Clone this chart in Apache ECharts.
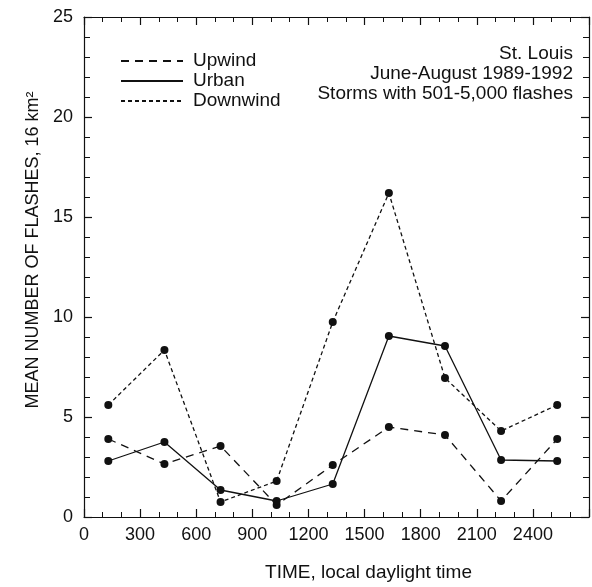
<!DOCTYPE html>
<html><head><meta charset="utf-8">
<script src="https://cdn.jsdelivr.net/npm/echarts@6/dist/echarts.min.js"></script>
<style>html,body{margin:0;padding:0;background:#fff}#c{width:592px;height:587px}</style>
</head><body><div id="c"></div>
<script>
const times = [130, 430, 730, 1030, 1330, 1630, 1930, 2230, 2530];
const upwind = [3.9, 2.65, 3.55, 0.6, 2.6, 4.5, 4.1, 0.8, 3.9];
const urban = [2.8, 3.75, 1.35, 0.8, 1.65, 9.05, 8.55, 2.85, 2.8];
const downwind = [5.6, 8.35, 0.75, 1.8, 9.75, 16.2, 6.95, 4.3, 5.6];
const xTickLabels = [0, 300, 600, 900, 1200, 1500, 1800, 2100, 2400];
const yTickLabels = [0, 5, 10, 15, 20, 25];
const seriesNames = ['Upwind', 'Urban', 'Downwind'];
const notes = ['St. Louis', 'June-August 1989-1992', 'Storms with 501-5,000 flashes'];

const FONT = '"Liberation Sans", Arial, Helvetica, sans-serif';
const INK = '#111';
const pairs = vals => times.map((t, i) => [t, vals[i]]);

function xAxisCfg(pos, labels) {
  return {
    type: 'value', position: pos, min: 0, max: 2700, interval: 300,
    axisLine: { show: true, onZero: false, lineStyle: { color: INK, width: 1.2 } },
    axisTick: { show: true, inside: true, length: 8, lineStyle: { color: INK, width: 1.2 } },
    minorTick: { show: true, splitNumber: 3, length: 5, lineStyle: { color: INK, width: 1 } },
    splitLine: { show: false },
    axisLabel: labels ? {
      show: true, margin: 9, color: INK, fontSize: 18, fontFamily: FONT,
      formatter: v => (xTickLabels.indexOf(v) >= 0 ? String(v) : '')
    } : { show: false }
  };
}
function yAxisCfg(pos, labels) {
  return {
    type: 'value', position: pos, min: 0, max: 25, interval: 5,
    axisLine: { show: true, onZero: false, lineStyle: { color: INK, width: 1.2 } },
    axisTick: { show: true, inside: true, length: 8, lineStyle: { color: INK, width: 1.2 } },
    minorTick: { show: true, splitNumber: 5, length: 6, lineStyle: { color: INK, width: 1 } },
    splitLine: { show: false },
    axisLabel: labels ? {
      show: true, margin: 11, color: INK, fontSize: 18, fontFamily: FONT,
      formatter: v => (yTickLabels.indexOf(v) >= 0 ? String(v) : '')
    } : { show: false }
  };
}

const xb = xAxisCfg('bottom', true);
xb.name = 'TIME, local daylight time';
xb.nameLocation = 'middle';
xb.nameGap = 46;
xb.nameTextStyle = { color: INK, fontSize: 19, fontFamily: FONT, padding: [0, 0, 0, 64] };
const yl = yAxisCfg('left', true);
yl.name = 'MEAN NUMBER OF FLASHES, 16 km²';
yl.nameLocation = 'middle';
yl.nameGap = 42;
yl.nameTextStyle = { color: INK, fontSize: 18, fontFamily: FONT, padding: [0, 0, 0, 34] };

const chart = echarts.init(document.getElementById('c'), null, { renderer: 'canvas' });
const mk = (name, vals, type) => ({
  name, type: 'line', data: pairs(vals), xAxisIndex: 0, yAxisIndex: 0,
  symbol: 'circle', symbolSize: 8, showSymbol: true,
  itemStyle: { color: INK },
  lineStyle: { color: INK, width: 1.3, type },
  emphasis: { disabled: true }, animation: false
});

chart.setOption({
  backgroundColor: '#fff',
  animation: false,
  grid: { left: 84, right: -2, top: 17, bottom: 70, containLabel: false },
  xAxis: [xb, xAxisCfg('top', false)],
  yAxis: [yl, yAxisCfg('right', false)],
  legend: {
    orient: 'vertical', left: 115, top: 46,
    itemWidth: 62, itemHeight: 12, itemGap: 0,
    itemStyle: { opacity: 0 },
    textStyle: { color: INK, fontSize: 19, lineHeight: 20, fontFamily: FONT, padding: [0, 0, 0, 5] },
    data: seriesNames
  },
  graphic: notes.map((t, i) => ({
    type: 'text', right: 19, top: 44 + i * 20,
    style: { text: t, fill: INK, fontSize: 19, fontFamily: FONT, textAlign: 'right' }
  })),
  series: [
    mk(seriesNames[0], upwind, [8, 6]),
    mk(seriesNames[1], urban, 'solid'),
    mk(seriesNames[2], downwind, [4, 3])
  ]
});
</script></body></html>
